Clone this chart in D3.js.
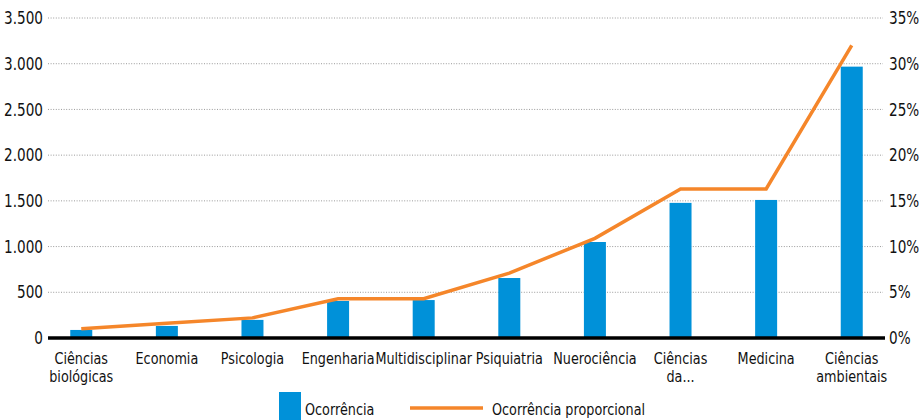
<!DOCTYPE html>
<html>
<head>
<meta charset="utf-8">
<script src="https://cdn.jsdelivr.net/npm/d3@7"></script>
<style>
  body { margin: 0; background: #fff; }
  text { font-family: "DejaVu Sans", sans-serif; fill: #111; }
</style>
</head>
<body>
<div id="chart"></div>
<script>
// data
var categories = ["Ciências biológicas", "Economia", "Psicologia", "Engenharia", "Multidisciplinar",
                  "Psiquiatria", "Nuerociência", "Ciências da...", "Medicina", "Ciências ambientais"];
var occurrence = [88, 132, 198, 405, 415, 656, 1050, 1478, 1510, 2968];
var proportional = [1.0, 1.6, 2.2, 4.3, 4.3, 7.1, 10.9, 16.3, 16.3, 32.0];
var leftTicks = [0, 500, 1000, 1500, 2000, 2500, 3000, 3500];
var rightTicks = [0, 5, 10, 15, 20, 25, 30, 35];

var width = 924, height = 420;
var plotLeft = 48, plotRight = 885, plotTop = 18, plotBottom = 338;
var squeeze = 0.8;  // no condensed font installed, so narrow the text by hand

var svg = d3.select("#chart").append("svg")
    .attr("width", width)
    .attr("height", height);

function place(fx, fy) {
  return function(d, i) {
    return "translate(" + fx(d, i) + "," + fy(d, i) + ") scale(" + squeeze + ",1)";
  };
}

var x = d3.scaleBand()
    .domain(categories)
    .range([plotLeft, plotRight])
    .paddingInner(0.743)
    .paddingOuter(0.26);

var y = d3.scaleLinear().domain([0, 3500]).range([plotBottom, plotTop]);
var yPct = d3.scaleLinear().domain([0, 35]).range([plotBottom, plotTop]);

// grid
svg.append("g").selectAll("line")
  .data(leftTicks.slice(1))
  .enter().append("line")
    .attr("x1", plotLeft).attr("x2", plotRight - 2)
    .attr("y1", function(d) { return y(d); })
    .attr("y2", function(d) { return y(d); })
    .attr("stroke", "#9a9a9a")
    .attr("stroke-width", 1)
    .attr("stroke-dasharray", "1,1.6");

// left axis labels
svg.append("g").selectAll("text")
  .data(leftTicks)
  .enter().append("text")
    .attr("transform", place(function() { return 43; }, function(d) { return y(d); }))
    .attr("dy", "0.36em")
    .attr("text-anchor", "end")
    .style("font-size", "17px")
    .text(function(d) { return d3.format(",")(d).replace(/,/g, "."); });

// right axis labels
svg.append("g").selectAll("text")
  .data(rightTicks)
  .enter().append("text")
    .attr("transform", place(function() { return 889; }, function(d) { return yPct(d); }))
    .attr("dy", "0.36em")
    .style("font-size", "17px")
    .text(function(d) { return d + "%"; });

// bars
svg.append("g").selectAll("rect")
  .data(occurrence)
  .enter().append("rect")
    .attr("x", function(d, i) { return x(categories[i]); })
    .attr("width", x.bandwidth())
    .attr("y", function(d) { return y(d); })
    .attr("height", function(d) { return plotBottom - y(d); })
    .attr("fill", "#0091d9");

// zero line
svg.append("line")
    .attr("x1", plotLeft).attr("x2", plotRight)
    .attr("y1", plotBottom).attr("y2", plotBottom)
    .attr("stroke", "#000")
    .attr("stroke-width", 3.5);

// proportional line
var line = d3.line()
    .x(function(d, i) { return x(categories[i]) + x.bandwidth() / 2; })
    .y(function(d) { return yPct(d); });

svg.append("path")
    .datum(proportional)
    .attr("d", line)
    .attr("fill", "none")
    .attr("stroke", "#f5862a")
    .attr("stroke-width", 3.5)
    .attr("stroke-linejoin", "miter");

// category labels
var catLabels = svg.append("g").selectAll("text")
  .data(categories)
  .enter().append("text")
    .attr("transform", place(function(d) { return x(d) + x.bandwidth() / 2; }, function() { return 364; }))
    .attr("text-anchor", "middle")
    .style("font-size", "16px");

catLabels.each(function(d) {
  var parts = d.indexOf("Ciências") === 0 ? ["Ciências", d.slice(9)] : [d];
  var t = d3.select(this);
  parts.forEach(function(p, j) {
    t.append("tspan")
      .attr("x", 0)
      .attr("dy", j === 0 ? 0 : 18)
      .text(p);
  });
});

// legend
var legend = svg.append("g");
legend.append("rect")
    .attr("x", 279).attr("y", 392)
    .attr("width", 22).attr("height", 28)
    .attr("fill", "#0091d9");
legend.append("text")
    .attr("transform", "translate(305,409) scale(" + squeeze + ",1)")
    .attr("dy", "0.35em")
    .style("font-size", "16px")
    .text("Ocorrência");
legend.append("line")
    .attr("x1", 410).attr("x2", 483)
    .attr("y1", 408).attr("y2", 408)
    .attr("stroke", "#f5862a")
    .attr("stroke-width", 3.5);
legend.append("text")
    .attr("transform", "translate(492,409) scale(" + squeeze + ",1)")
    .attr("dy", "0.35em")
    .style("font-size", "16px")
    .text("Ocorrência proporcional");
</script>
</body>
</html>
